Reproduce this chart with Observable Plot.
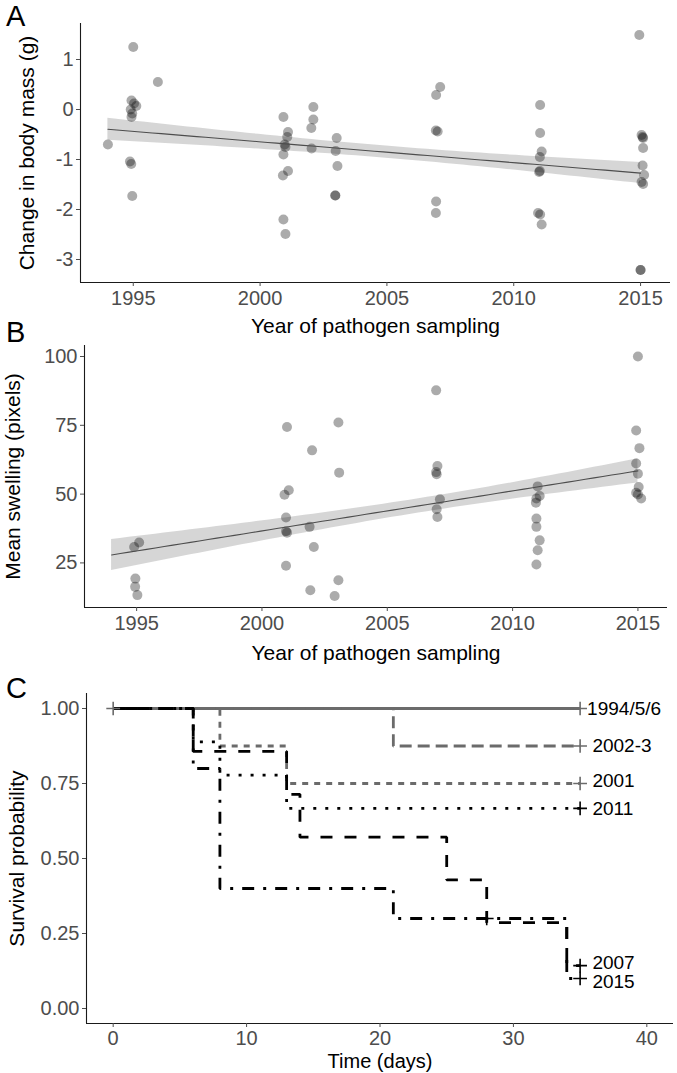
<!DOCTYPE html>
<html>
<head>
<meta charset="utf-8">
<script src="https://cdn.jsdelivr.net/npm/d3@7"></script>
<script src="https://cdn.jsdelivr.net/npm/@observablehq/plot@0.6"></script>
<style>
  html, body { margin: 0; padding: 0; background: #fff; }
  #root { position: relative; width: 677px; height: 1073px; overflow: hidden;
          font-family: "Liberation Sans", Arial, Helvetica, sans-serif; }
  #root > svg { position: absolute; left: 0; }
</style>
</head>
<body>
<div id="root"></div>
<script>
// ---------- Panel A: change in body mass ----------
const massYear = [1994.0,
  1995.0, 1994.93, 1995.03, 1995.12, 1994.9, 1994.96, 1994.93, 1994.87, 1994.92, 1994.96,
  1995.97,
  2000.92, 2001.1, 2001.07, 2000.97, 2001.0, 2000.92, 2001.1, 2000.9, 2000.92, 2001.0,
  2002.1, 2002.1, 2002.02, 2002.03,
  2003.02, 2002.98, 2003.05, 2002.96, 2002.97,
  2007.1, 2006.94, 2006.93, 2007.0, 2006.94, 2006.93,
  2011.04, 2011.04, 2011.1, 2011.03, 2011.03, 2011.0, 2010.96, 2011.04, 2011.1,
  2014.95, 2015.04, 2015.08, 2015.1, 2015.1, 2015.08, 2015.14, 2015.04, 2015.1, 2015.0, 2015.0];
const massChange = [-0.70,
  1.25, 0.18, 0.12, 0.07, 0.0, -0.08, -0.15, -1.04, -1.09, -1.73,
  0.55,
  -0.15, -0.45, -0.55, -0.70, -0.75, -0.90, -1.23, -1.32, -2.20, -2.49,
  0.05, -0.20, -0.37, -0.78,
  -0.57, -0.83, -1.13, -1.72, -1.72,
  0.45, 0.29, -0.42, -0.44, -1.84, -2.07,
  0.09, -0.47, -0.84, -0.95, -1.23, -1.25, -2.07, -2.10, -2.30,
  1.49, -0.51, -0.55, -0.57, -0.77, -1.12, -1.31, -1.45, -1.49, -3.21, -3.21];

// ---------- Panel B: mean swelling ----------
const swellYear = [1995.1, 1994.9, 1994.95, 1994.94, 1995.03,
  2001.0, 2001.07, 2000.9, 2000.96, 2000.96, 2001.0, 2000.96,
  2002.0, 2001.9, 2002.07, 2001.93,
  2003.05, 2003.08, 2003.05, 2002.9,
  2006.95, 2007.0, 2006.95, 2006.97, 2007.1, 2006.97, 2007.0,
  2011.0, 2011.08, 2010.95, 2010.93, 2010.95, 2010.95, 2011.08, 2011.0, 2010.95,
  2015.0, 2014.93, 2015.06, 2014.93, 2015.0, 2015.03, 2014.93, 2015.0, 2015.13];
const swellValue = [32.4, 30.8, 19.3, 16.3, 13.3,
  74.4, 51.4, 49.8, 41.5, 36.5, 36.0, 24.0,
  65.9, 38.1, 30.8, 15.1,
  76.0, 57.8, 18.7, 13.0,
  87.7, 60.2, 58.0, 57.2, 48.1, 44.5, 41.7,
  52.8, 49.3, 48.4, 46.9, 41.1, 38.1, 33.2, 29.6, 24.4,
  100.0, 73.1, 66.7, 61.1, 57.4, 52.6, 50.5, 49.9, 48.4];

// sampling years of the study (span of the fitted trend lines)
const samplingYears = [1994, 1995, 1996, 2001, 2002, 2003, 2007, 2011, 2015];

// ---------- Ticks, domains, titles ----------
const yearTicks = [1995, 2000, 2005, 2010, 2015];
const massTicks = [-3, -2, -1, 0, 1];
const swellTicks = [25, 50, 75, 100];
const survTicks = [0, 0.25, 0.5, 0.75, 1];
const dayTicks = [0, 10, 20, 30, 40];
const yearDomain = [1992.92, 2016.18];
const massDomain = [-3.46, 1.72];
const swellDomain = [8.8, 104.0];
const dayDomain = [-2, 42];
const survDomain = [-0.05, 1.05];
const xTitleYear = "Year of pathogen sampling";
const yTitleMass = "Change in body mass (g)";
const yTitleSwell = "Mean swelling (pixels)";
const xTitleDays = "Time (days)";
const yTitleSurv = "Survival probability";
const panelLetters = ["A", "B", "C"];

// ---------- Panel C: Kaplan-Meier curves ----------
const kmGroups = ["1994/5/6", "2001", "2002-3", "2007", "2011", "2015"];
const kmDay1994 = [0, 35],                         kmSurv1994 = [1, 1];
const kmDay2001 = [0, 8, 13, 35],                  kmSurv2001 = [1, 0.875, 0.75, 0.75];
const kmDay2002 = [0, 21, 35],                     kmSurv2002 = [1, 0.875, 0.875];
const kmDay2007 = [0, 6, 13, 14, 25, 28, 34, 35],  kmSurv2007 = [1, 0.857, 0.714, 0.571, 0.429, 0.286, 0.143, 0.143];
const kmDay2011 = [0, 6, 8, 13, 35],               kmSurv2011 = [1, 0.889, 0.778, 0.667, 0.667];
const kmDay2015 = [0, 6, 8, 21, 34, 35],           kmSurv2015 = [1, 0.8, 0.4, 0.3, 0.1, 0.1];
const censorGroup = ["1994/5/6", "1994/5/6", "2001", "2002-3", "2007", "2011", "2015", "2015"];
const censorDay   = [0, 35, 35, 35, 35, 35, 28, 35];
const censorSurv  = [1, 1, 0.75, 0.875, 0.143, 0.667, 0.3, 0.1];
const labelText = ["1994/5/6", " 2002-3", " 2001", " 2011", " 2007", " 2015"];
const labelDay  = [35, 35, 35, 35, 35, 35];
const labelSurv = [1.0, 0.875, 0.757, 0.665, 0.152, 0.089];

// ---------- styles (kept apart from data) ----------
const FONT = "'Liberation Sans', Arial, Helvetica, sans-serif";
const GRAY = "#6b6b6b";
const groupStyle = {
  "1994/5/6": {stroke: GRAY, dash: null},
  "2001":     {stroke: GRAY, dash: "6,6"},
  "2002-3":   {stroke: GRAY, dash: "12,6"},
  "2007":     {stroke: "#000", dash: "12,12"},
  "2011":     {stroke: "#000", dash: "3,9"},
  "2015":     {stroke: "#000", dash: "3,9,12,9"}
};
const AXIS = "#1a1a1a";
const TICK = "#4d4d4d";
const BAND_T = 1.0; // band half-width in standard errors of the fitted mean

const root = document.getElementById("root");

// ordinary least squares fit of the data, evaluated across the sampling-year span
function olsTrend(xs, ys, span) {
  const n = xs.length;
  const mx = d3.mean(xs), my = d3.mean(ys);
  let sxx = 0, sxy = 0;
  for (let i = 0; i < n; i++) { sxx += (xs[i] - mx) ** 2; sxy += (xs[i] - mx) * (ys[i] - my); }
  const b = sxy / sxx, a = my - b * mx;
  let sse = 0;
  for (let i = 0; i < n; i++) sse += (ys[i] - (a + b * xs[i])) ** 2;
  const s = Math.sqrt(sse / (n - 2));
  const [x0, x1] = d3.extent(span);
  const steps = 60;
  return d3.range(steps + 1).map(k => {
    const x = x0 + (x1 - x0) * k / steps;
    const yhat = a + b * x;
    const se = s * Math.sqrt(1 / n + (x - mx) ** 2 / sxx);
    return {x, y: yhat, lo: yhat - BAND_T * se, hi: yhat + BAND_T * se};
  });
}

function scatterPanel({xs, ys, yDomain, yTicks, top, height, mt, mb, ml, mr, yTitle, yTitleDx, xTitleDy}) {
  const rows = xs.map((x, i) => ({year: x, value: ys[i]}));
  const trend = olsTrend(xs, ys, samplingYears);
  const p = Plot.plot({
    width: 677, height, marginTop: mt, marginBottom: mb, marginLeft: ml, marginRight: mr,
    style: {fontFamily: FONT, fontSize: "20px", background: "transparent", overflow: "visible"},
    x: {domain: yearDomain},
    y: {domain: yDomain},
    marks: [
      Plot.areaY(trend, {x: "x", y1: "lo", y2: "hi", fill: "#999999", fillOpacity: 0.4}),
      Plot.dot(rows, {x: "year", y: "value", r: 5, fill: "#000", fillOpacity: 0.33, stroke: "none"}),
      Plot.line(trend, {x: "x", y: "y", stroke: "#4d4d4d", strokeWidth: 1.1}),
      Plot.ruleX([yearDomain[0]], {stroke: AXIS, strokeWidth: 1.1}),
      Plot.ruleY([yDomain[0]], {stroke: AXIS, strokeWidth: 1.1}),
      Plot.axisX({ticks: yearTicks, tickFormat: d => String(d), tickSize: 4, tickPadding: 4, fontSize: 20, color: TICK, label: null}),
      Plot.axisY({ticks: yTicks, tickFormat: d => String(d), tickSize: 4, tickPadding: 3, fontSize: 20, color: TICK, label: null}),
      Plot.text([xTitleYear], {text: d => d, frameAnchor: "bottom", dy: xTitleDy, fontSize: 21, fill: "#000"}),
      Plot.text([yTitle], {text: d => d, frameAnchor: "left", textAnchor: "middle", lineAnchor: "middle",
        rotate: -90, dx: yTitleDx, fontSize: 21, fill: "#000"})
    ]
  });
  p.style.top = top + "px";
  root.appendChild(p);
}

scatterPanel({xs: massYear, ys: massChange, yDomain: massDomain, yTicks: massTicks,
  top: 0, height: 345, mt: 23, mb: 63, ml: 80, mr: 7, yTitle: yTitleMass, yTitleDx: -53, xTitleDy: 50});
scatterPanel({xs: swellYear, ys: swellValue, yDomain: swellDomain, yTicks: swellTicks,
  top: 320, height: 360, mt: 25, mb: 73, ml: 84, mr: 10, yTitle: yTitleSwell, yTitleDx: -71, xTitleDy: 52});

// Panel C
const kmDays = [kmDay1994, kmDay2001, kmDay2002, kmDay2007, kmDay2011, kmDay2015];
const kmSurvs = [kmSurv1994, kmSurv2001, kmSurv2002, kmSurv2007, kmSurv2011, kmSurv2015];
const kmLines = kmGroups.map((g, gi) => {
  const rows = kmDays[gi].map((d, i) => ({group: g, day: d, surv: kmSurvs[gi][i]}));
  const st = groupStyle[g];
  const opts = {x: "day", y: "surv", curve: "step-after", stroke: st.stroke, strokeWidth: 2.8,
    strokeLinecap: "butt", strokeLinejoin: "miter"};
  if (st.dash) opts.strokeDasharray = st.dash;
  return Plot.line(rows, opts);
});
const censorRows = censorGroup.map((g, i) => ({group: g, day: censorDay[i], surv: censorSurv[i]}));
const labelRows = labelText.map((t, i) => ({text: t, day: labelDay[i], surv: labelSurv[i]}));

const pc = Plot.plot({
  width: 677, height: 393, marginTop: 13, marginBottom: 50, marginLeft: 86, marginRight: 4,
  style: {fontFamily: FONT, fontSize: "20px", background: "transparent", overflow: "visible"},
  x: {domain: dayDomain},
  y: {domain: survDomain},
  marks: [
    ...kmLines,
    Plot.dot(censorRows, {x: "day", y: "surv", symbol: "plus", r: 4.5, strokeWidth: 1.6,
      stroke: d => groupStyle[d.group].stroke}),
    Plot.text(labelRows, {x: "day", y: "surv", text: "text", textAnchor: "start", dx: 7, fontSize: 19, fill: "#000"}),
    Plot.ruleX([dayDomain[0]], {stroke: AXIS, strokeWidth: 1.1}),
    Plot.ruleY([survDomain[0]], {stroke: AXIS, strokeWidth: 1.1}),
    Plot.axisX({ticks: dayTicks, tickFormat: d => String(d), tickSize: 4, tickPadding: 3, fontSize: 20, color: TICK, label: null}),
    Plot.axisY({ticks: survTicks, tickFormat: d3.format(".2f"), tickSize: 4, tickPadding: 3, fontSize: 20, color: TICK, label: null}),
    Plot.text([xTitleDays], {text: d => d, frameAnchor: "bottom", dy: 44, fontSize: 20, fill: "#000"}),
    Plot.text([yTitleSurv], {text: d => d, frameAnchor: "left", textAnchor: "middle", lineAnchor: "middle",
      rotate: -90, dx: -69, fontSize: 21, fill: "#000"})
  ]
});
pc.style.top = "680px";
root.appendChild(pc);

// Panel letters
const letterBase = [26, 342, 698];
const ov = d3.select(root).append("svg")
  .attr("width", 677).attr("height", 1073)
  .style("top", "0px").style("pointer-events", "none");
ov.selectAll("text").data(panelLetters).join("text")
  .attr("x", 6).attr("y", (d, i) => letterBase[i])
  .attr("font-family", FONT).attr("font-size", 29).attr("fill", "#000")
  .text(d => d);
</script>
</body>
</html>
